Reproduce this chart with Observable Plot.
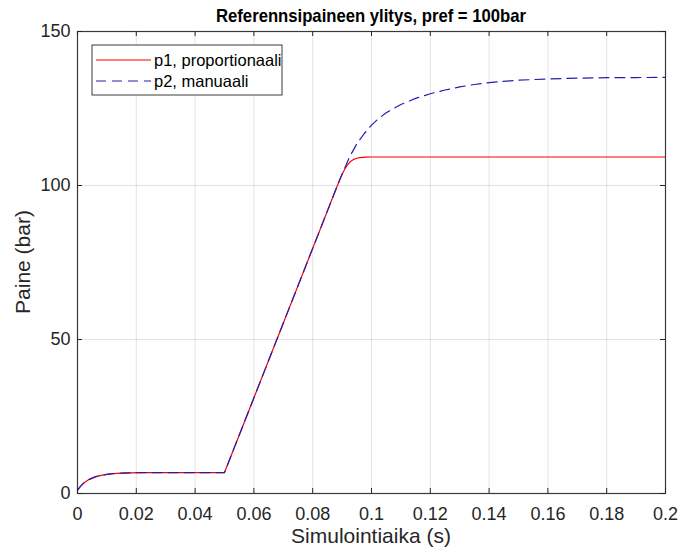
<!DOCTYPE html>
<html>
<head>
<meta charset="utf-8">
<script src="https://cdn.jsdelivr.net/npm/d3@7"></script>
<script src="https://cdn.jsdelivr.net/npm/@observablehq/plot@0.6"></script>
<style>
  html, body { margin: 0; padding: 0; background: #ffffff; }
  #chart { width: 678px; height: 555px; }
</style>
</head>
<body>
<div id="chart"></div>
<script>
// ---- data ----
const titleText = "Referennsipaineen ylitys, pref = 100bar";
const xLabel = "Simulointiaika (s)";
const yLabel = "Paine (bar)";
const seriesNames = ["p1, proportionaali", "p2, manuaali"];

const xTicks = [0, 0.02, 0.04, 0.06, 0.08, 0.1, 0.12, 0.14, 0.16, 0.18, 0.2];
const yTicks = [0, 50, 100, 150];

const time1 = [0, 0.0005, 0.001, 0.0015, 0.002, 0.003, 0.004, 0.005, 0.006, 0.008, 0.01, 0.012, 0.015, 0.018, 0.022, 0.03, 0.05,
               0.088, 0.089, 0.09, 0.091, 0.092, 0.093, 0.094, 0.095, 0.096, 0.098, 0.1, 0.2];
const p1 =    [1.0, 1.7, 2.3, 2.8, 3.3, 4.0, 4.6, 5.0, 5.4, 5.9, 6.2, 6.45, 6.6, 6.7, 6.78, 6.8, 6.8,
               99.0, 101.4, 103.6, 105.5, 106.9, 107.9, 108.5, 108.85, 109.05, 109.2, 109.25, 109.25];

const time2 = [0, 0.0005, 0.001, 0.0015, 0.002, 0.003, 0.004, 0.005, 0.006, 0.008, 0.01, 0.012, 0.015, 0.018, 0.022, 0.03, 0.05,
               0.088, 0.089, 0.09, 0.0925, 0.095, 0.0975, 0.1, 0.1025, 0.105, 0.11, 0.115, 0.12, 0.125, 0.13, 0.135, 0.14, 0.15, 0.16, 0.17, 0.18, 0.19, 0.2];
const p2 =    [1.0, 1.7, 2.3, 2.8, 3.3, 4.0, 4.6, 5.0, 5.4, 5.9, 6.2, 6.45, 6.6, 6.7, 6.78, 6.8, 6.8,
               99.0, 101.4, 103.7, 109.2, 113.5, 116.8, 119.6, 121.8, 123.6, 126.3, 128.3, 129.8, 131.0, 132.0, 132.8, 133.4, 134.2, 134.6, 134.85, 135.0, 135.05, 135.1];

const colors = ["#ff0000", "#1f1fb4"];

// ---- build ----
const d1 = time1.map((t, i) => ({t, p: p1[i]}));
const d2 = time2.map((t, i) => ({t, p: p2[i]}));

const W = 678, H = 555;
const mL = 77, mR = 13, mT = 31, mB = 62;
const font = "'Liberation Sans', Arial, Helvetica, sans-serif";
const ink = "#262626";
const fmt = d => d === 0 ? "0" : String(+d.toFixed(2));

const svg = Plot.plot({
  width: W, height: H,
  marginLeft: mL, marginRight: mR, marginTop: mT, marginBottom: mB,
  style: {fontFamily: font, fontSize: "18px", color: ink, background: "#ffffff", overflow: "visible"},
  x: {domain: [0, 0.2], label: null},
  y: {domain: [0, 150], label: null},
  marks: [
    Plot.gridX(xTicks, {stroke: ink, strokeOpacity: 0.13}),
    Plot.gridY(yTicks, {stroke: ink, strokeOpacity: 0.13}),
    Plot.line(d1, {x: "t", y: "p", stroke: colors[0], strokeWidth: 1.2}),
    Plot.line(d2, {x: "t", y: "p", stroke: colors[1], strokeWidth: 1.2, strokeDasharray: "10,6"}),
    Plot.frame({stroke: "#3a3a3a", strokeWidth: 1.2}),
    Plot.tickX(xTicks, {x: d => d, stroke: ink, insetTop: H - mT - mB - 5}),
    Plot.tickX(xTicks, {x: d => d, stroke: ink, insetBottom: H - mT - mB - 5}),
    Plot.tickY(yTicks, {y: d => d, stroke: ink, insetRight: W - mL - mR - 5}),
    Plot.tickY(yTicks, {y: d => d, stroke: ink, insetLeft: W - mL - mR - 5}),
    Plot.axisX(xTicks, {anchor: "bottom", tickSize: 0, tickPadding: 14, tickFormat: fmt, label: null, fontSize: 18, fill: ink}),
    Plot.axisY(yTicks, {anchor: "left", tickSize: 0, tickPadding: 7, tickFormat: fmt, label: null, fontSize: 18, fill: ink})
  ]
});

const s = d3.select(svg);
const cx = mL + (W - mL - mR) / 2;

// title
s.append("text")
  .attr("x", cx).attr("y", 22)
  .attr("text-anchor", "middle")
  .attr("font-family", font).attr("font-size", 19).attr("font-weight", "bold")
  .attr("textLength", 310).attr("lengthAdjust", "spacingAndGlyphs")
  .attr("fill", "#000000")
  .text(titleText);

// x label
s.append("text")
  .attr("x", cx).attr("y", 543)
  .attr("text-anchor", "middle")
  .attr("font-family", font).attr("font-size", 21)
  .attr("fill", ink)
  .text(xLabel);

// y label
s.append("text")
  .attr("transform", `translate(30, ${mT + (H - mT - mB) / 2}) rotate(-90)`)
  .attr("text-anchor", "middle")
  .attr("font-family", font).attr("font-size", 21)
  .attr("fill", ink)
  .text(yLabel);

// legend
const lg = s.append("g").attr("class", "legend");
lg.append("rect")
  .attr("x", 92).attr("y", 45).attr("width", 190).attr("height", 50)
  .attr("fill", "#ffffff").attr("stroke", "#3a3a3a").attr("stroke-width", 1);
seriesNames.forEach((name, i) => {
  const y = 60 + i * 21;
  lg.append("line")
    .attr("x1", 96).attr("x2", 151).attr("y1", y).attr("y2", y)
    .attr("stroke", colors[i]).attr("stroke-width", 1.2)
    .attr("stroke-dasharray", i === 1 ? "10,6" : null);
  lg.append("text")
    .attr("x", 154).attr("y", y + 5.5)
    .attr("text-anchor", "start")
    .attr("font-family", font).attr("font-size", 16.5)
    .attr("fill", "#000000")
    .text(name);
});

document.getElementById("chart").appendChild(svg);
</script>
</body>
</html>
